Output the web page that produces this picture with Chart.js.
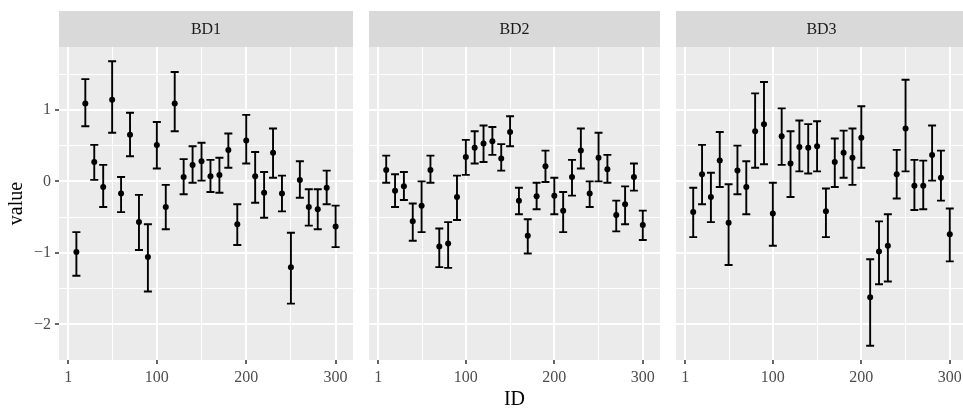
<!DOCTYPE html>
<html>
<head>
<meta charset="utf-8">
<script src="https://cdn.jsdelivr.net/npm/chart.js@4/dist/chart.umd.min.js"></script>
<style>
  html, body { margin: 0; padding: 0; background: #ffffff; }
  body { width: 963px; height: 412px; overflow: hidden; position: relative; }
  .panel { position: absolute; top: 0; height: 412px; }
  canvas { display: block; }
</style>
</head>
<body>
<div class="panel" style="left:0px;width:356px"><canvas id="c1" width="356" height="412"></canvas></div>
<div class="panel" style="left:366px;width:297px"><canvas id="c2" width="297" height="412"></canvas></div>
<div class="panel" style="left:673px;width:297px"><canvas id="c3" width="297" height="412"></canvas></div>
<script>
// ---------------- data ----------------
const ids = [10, 20, 30, 40, 50, 60, 70, 80, 90, 100, 110, 120, 130, 140, 150,
             160, 170, 180, 190, 200, 210, 220, 230, 240, 250, 260, 270, 280, 290, 300];
const facetLabels = ['BD1', 'BD2', 'BD3'];
const xBreaks = [1, 100, 200, 300];
const yBreaks = [-2, -1, 0, 1];
const xTitle = 'ID';
const yTitle = 'value';

const bd1Value = [-0.99, 1.09, 0.27, -0.08, 1.14, -0.17, 0.65, -0.57, -1.06, 0.51,
                  -0.36, 1.09, 0.06, 0.23, 0.28, 0.07, 0.09, 0.44, -0.60, 0.57,
                  0.07, -0.16, 0.40, -0.17, -1.20, 0.02, -0.36, -0.39, -0.09, -0.63];
const bd1Lower = [-1.32, 0.77, 0.02, -0.36, 0.68, -0.43, 0.35, -0.96, -1.54, 0.18,
                  -0.67, 0.70, -0.18, -0.02, 0.01, -0.15, -0.16, 0.19, -0.89, 0.25,
                  -0.30, -0.51, 0.05, -0.42, -1.71, -0.23, -0.62, -0.67, -0.32, -0.92];
const bd1Upper = [-0.71, 1.43, 0.51, 0.23, 1.68, 0.06, 0.96, -0.19, -0.60, 0.83,
                  -0.05, 1.53, 0.31, 0.49, 0.54, 0.30, 0.33, 0.67, -0.32, 0.93,
                  0.41, 0.13, 0.74, 0.08, -0.72, 0.28, -0.11, -0.11, 0.15, -0.34];

const bd2Value = [0.16, -0.13, -0.07, -0.56, -0.34, 0.16, -0.91, -0.87, -0.22, 0.34,
                  0.47, 0.53, 0.56, 0.32, 0.69, -0.27, -0.76, -0.21, 0.21, -0.20,
                  -0.41, 0.06, 0.43, -0.17, 0.33, 0.17, -0.47, -0.32, 0.06, -0.61];
const bd2Lower = [-0.02, -0.36, -0.26, -0.83, -0.71, -0.02, -1.20, -1.21, -0.54, 0.09,
                  0.25, 0.27, 0.37, 0.15, 0.49, -0.46, -1.01, -0.39, -0.01, -0.46,
                  -0.71, -0.20, 0.18, -0.36, 0.00, -0.02, -0.70, -0.60, -0.13, -0.82];
const bd2Upper = [0.36, 0.10, 0.13, -0.31, 0.00, 0.36, -0.66, -0.57, 0.08, 0.58,
                  0.70, 0.78, 0.76, 0.52, 0.91, -0.09, -0.53, -0.02, 0.43, 0.05,
                  -0.15, 0.30, 0.74, 0.00, 0.68, 0.37, -0.27, -0.07, 0.25, -0.41];

const bd3Value = [-0.43, 0.10, -0.22, 0.29, -0.58, 0.15, -0.08, 0.70, 0.80, -0.45,
                  0.63, 0.25, 0.48, 0.47, 0.49, -0.42, 0.27, 0.40, 0.33, 0.61,
                  -1.62, -0.98, -0.90, 0.10, 0.74, -0.06, -0.06, 0.37, 0.05, -0.74];
const bd3Lower = [-0.78, -0.32, -0.57, -0.08, -1.17, -0.18, -0.46, 0.19, 0.24, -0.90,
                  0.23, -0.22, 0.14, 0.11, 0.14, -0.78, -0.08, 0.05, -0.05, 0.19,
                  -2.30, -1.44, -1.40, -0.24, 0.14, -0.40, -0.39, 0.01, -0.27, -1.12];
const bd3Upper = [-0.09, 0.51, 0.12, 0.69, -0.04, 0.50, 0.28, 1.23, 1.39, -0.02,
                  1.02, 0.70, 0.85, 0.80, 0.84, -0.10, 0.60, 0.71, 0.74, 1.05,
                  -1.09, -0.56, -0.46, 0.44, 1.42, 0.30, 0.29, 0.78, 0.43, -0.38];

// ---------------- shared scale limits (ggplot-style: data range + 5%) ----------------
const ERR_HALF = 4.5;                       // half error-bar width in ID units
const allLower = bd1Lower.concat(bd2Lower, bd3Lower);
const allUpper = bd1Upper.concat(bd2Upper, bd3Upper);
const yDataMin = Math.min(...allLower), yDataMax = Math.max(...allUpper);
const ySpan = yDataMax - yDataMin;
const Y_MIN = yDataMin - 0.05 * ySpan, Y_MAX = yDataMax + 0.05 * ySpan;
const xDataMin = Math.min(...ids) - ERR_HALF, xDataMax = Math.max(...ids) + ERR_HALF;
const xSpan = xDataMax - xDataMin;
const X_MIN = xDataMin - 0.05 * xSpan, X_MAX = xDataMax + 0.05 * xSpan;

function withMinor(breaks) {
  const out = [];
  for (let i = 0; i < breaks.length; i++) {
    out.push(breaks[i]);
    if (i < breaks.length - 1) out.push((breaks[i] + breaks[i + 1]) / 2);
  }
  return out;
}
const yGridValues = (function () {
  const b = withMinor(yBreaks);
  const step = (yBreaks[1] - yBreaks[0]) / 2;
  const lo = yBreaks[0] - step, hi = yBreaks[yBreaks.length - 1] + step;
  if (lo >= Y_MIN) b.unshift(lo);
  if (hi <= Y_MAX) b.push(hi);
  return b;
})();
const xGridValues = withMinor(xBreaks);

const SERIF = "'Liberation Serif', 'DejaVu Serif', serif";
const STRIP_H = 36;
const PANEL_BG = '#EBEBEB';
const STRIP_BG = '#D9D9D9';

function fmtMinus(v) { return String(v).replace('-', '\u2212'); }

function makePanel(canvasId, label, values, lower, upper, showY, showXTitle) {
  const panelPlugin = {
    id: 'panel_' + canvasId,
    beforeDraw(chart) {
      const { ctx, chartArea: a } = chart;
      ctx.save();
      ctx.fillStyle = PANEL_BG;
      ctx.fillRect(a.left, a.top, a.right - a.left, a.bottom - a.top);
      ctx.fillStyle = STRIP_BG;
      ctx.fillRect(a.left, a.top - STRIP_H, a.right - a.left, STRIP_H);
      ctx.fillStyle = '#1A1A1A';
      ctx.font = '16px ' + SERIF;
      ctx.textAlign = 'center';
      ctx.textBaseline = 'middle';
      ctx.fillText(label, (a.left + a.right) / 2, a.top - STRIP_H / 2 + 1);
      ctx.restore();
    },
    beforeDatasetsDraw(chart) {
      const { ctx } = chart;
      const xs = chart.scales.x, ys = chart.scales.y;
      ctx.save();
      ctx.strokeStyle = '#000000';
      ctx.lineWidth = 1.9;
      ctx.lineCap = 'butt';
      ctx.beginPath();
      for (let i = 0; i < ids.length; i++) {
        const x = xs.getPixelForValue(ids[i]);
        const hw = xs.getPixelForValue(ids[i] + ERR_HALF) - x;
        const yl = ys.getPixelForValue(lower[i]);
        const yu = ys.getPixelForValue(upper[i]);
        ctx.moveTo(x - hw, yu); ctx.lineTo(x + hw, yu);
        ctx.moveTo(x, yu); ctx.lineTo(x, yl);
        ctx.moveTo(x - hw, yl); ctx.lineTo(x + hw, yl);
      }
      ctx.stroke();
      ctx.restore();
    }
  };

  const isXMajor = v => xBreaks.indexOf(v) !== -1;
  const isYMajor = v => yBreaks.indexOf(v) !== -1;

  return new Chart(document.getElementById(canvasId), {
    type: 'scatter',
    data: {
      datasets: [{
        data: ids.map((id, i) => ({ x: id, y: values[i] })),
        pointRadius: 3,
        pointHoverRadius: 3,
        pointBackgroundColor: '#000000',
        pointBorderWidth: 0,
        showLine: false
      }]
    },
    options: {
      responsive: false,
      animation: false,
      devicePixelRatio: 1,
      layout: { padding: { top: 11 + STRIP_H, left: 0, right: 0, bottom: 0 } },
      plugins: { legend: { display: false }, tooltip: { enabled: false }, title: { display: false } },
      scales: {
        x: {
          type: 'linear',
          min: X_MIN,
          max: X_MAX,
          offset: false,
          afterBuildTicks: s => { s.ticks = xGridValues.map(v => ({ value: v })); },
          afterFit: s => { s.height = 52; },
          border: { display: false },
          grid: {
            color: '#FFFFFF',
            lineWidth: c => (c.tick && isXMajor(c.tick.value)) ? 2 : 1,
            drawTicks: true,
            tickLength: 4,
            tickColor: c => (c.tick && isXMajor(c.tick.value)) ? '#333333' : 'rgba(0,0,0,0)',
            tickWidth: 1.5
          },
          ticks: {
            autoSkip: false,
            maxRotation: 0,
            padding: 4,
            color: '#4D4D4D',
            font: { family: SERIF, size: 16 },
            callback: v => isXMajor(v) ? String(v) : ''
          },
          title: {
            display: showXTitle,
            text: xTitle,
            color: '#000000',
            font: { family: SERIF, size: 20, lineHeight: 1 },
            padding: { top: 0, bottom: 2 }
          }
        },
        y: {
          type: 'linear',
          min: Y_MIN,
          max: Y_MAX,
          afterBuildTicks: s => { s.ticks = yGridValues.map(v => ({ value: v })); },
          afterFit: s => { s.width = showY ? 59 : 0; },
          border: { display: false },
          grid: {
            color: '#FFFFFF',
            lineWidth: c => (c.tick && isYMajor(c.tick.value)) ? 2 : 1,
            drawTicks: showY,
            tickLength: 4,
            tickColor: c => (c.tick && isYMajor(c.tick.value)) ? '#333333' : 'rgba(0,0,0,0)',
            tickWidth: 1.5
          },
          ticks: {
            display: showY,
            autoSkip: false,
            padding: 4,
            color: '#4D4D4D',
            font: { family: SERIF, size: 16 },
            callback: v => isYMajor(v) ? fmtMinus(v) : ''
          },
          title: {
            display: showY,
            text: yTitle,
            color: '#000000',
            font: { family: SERIF, size: 20, lineHeight: 1 },
            padding: { top: 7, bottom: 0 }
          }
        }
      }
    },
    plugins: [panelPlugin]
  });
}

makePanel('c1', facetLabels[0], bd1Value, bd1Lower, bd1Upper, true, false);
makePanel('c2', facetLabels[1], bd2Value, bd2Lower, bd2Upper, false, true);
makePanel('c3', facetLabels[2], bd3Value, bd3Lower, bd3Upper, false, false);
</script>
</body>
</html>
